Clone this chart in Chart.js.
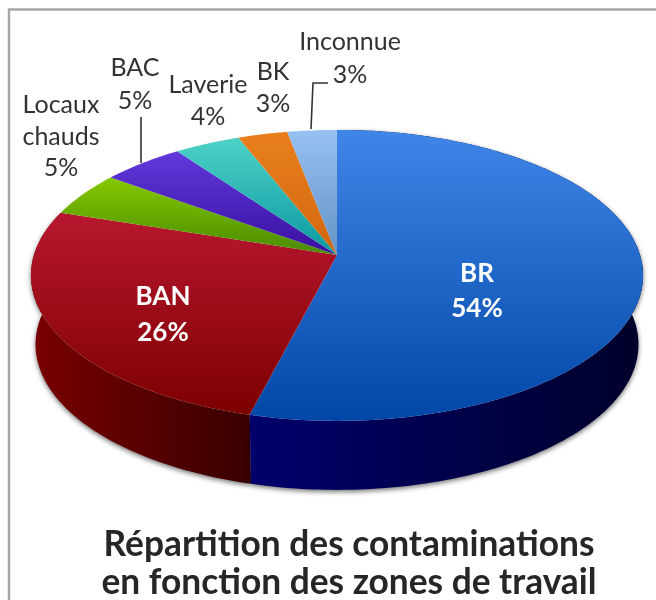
<!DOCTYPE html>
<html lang="fr">
<head>
<meta charset="utf-8">
<title>Répartition des contaminations</title>
<script src="https://cdn.jsdelivr.net/npm/chart.js@4"></script>
<style>
  html, body { margin: 0; padding: 0; background: #fff; }
  #wrap { width: 656px; height: 600px; overflow: hidden; }
</style>
</head>
<body>
<div id="wrap"><canvas id="pie" width="656" height="600"></canvas></div>
<script>
// Data
const categories = ['BR', 'BAN', 'Locaux chauds', 'BAC', 'Laverie', 'BK', 'Inconnue'];
const shares = [54, 26, 5, 5, 4, 3, 3];
const titleLines = ['Répartition des contaminations', 'en fonction des zones de travail'];

// Face colours, light end then dark end of the vertical gradient
const faceLight = ['#3f86e8', '#b8172f', '#86c900', '#6238dc', '#4ed2c8', '#e9801c', '#98c0f3'];
const faceDark = ['#0047a8', '#7c0000', '#4a8a00', '#38109f', '#0b98a0', '#d2660f', '#6293c8'];
const wallLeft = ['#00006e', '#7a0000'];
const wallRight = ['#00002a', '#3a0000'];

// Where the text sits: centre x, first line y, line step, inside the pie or not
const labelSpots = {
  'BR': [477, 274, 35, true],
  'BAN': [163, 297, 36, true],
  'Locaux chauds': [61, 105, 31.5, false],
  'BAC': [135, 68, 33, false],
  'Laverie': [208, 85, 32, false],
  'BK': [273, 72, 32, false],
  'Inconnue': [350, 42, 33, false]
};

// Fake perspective for the flat pie: disc tilted towards the viewer
const tilt = { a: 303, b: 142.6, k: 0.141, shiftX: -12, depth: 69, shrink: 0.985 };

function project(el, angle) {
  const u = Math.cos(angle), v = Math.sin(angle);
  const w = 1 - tilt.k * v;
  return {
    x: el.x + tilt.shiftX + tilt.a * u / w,
    y: el.y + tilt.b * v / w
  };
}

function rimPoints(el) {
  const pts = [];
  const steps = Math.max(8, Math.ceil((el.endAngle - el.startAngle) * 60));
  for (let i = 0; i <= steps; i++) {
    pts.push(project(el, el.startAngle + (el.endAngle - el.startAngle) * i / steps));
  }
  return pts;
}

function drawWall(ctx, el, i) {
  const cx = el.x + tilt.shiftX;
  const pts = rimPoints(el);
  const grad = ctx.createLinearGradient(i === 0 ? 245 : 30, 0, i === 0 ? 643 : 245, 0);
  grad.addColorStop(0, i === 0 ? wallLeft[0] : wallLeft[1]);
  grad.addColorStop(1, i === 0 ? wallRight[0] : wallRight[1]);
  ctx.beginPath();
  pts.forEach((p, n) => { n ? ctx.lineTo(p.x, p.y) : ctx.moveTo(p.x, p.y); });
  pts.slice().reverse().forEach(p => {
    ctx.lineTo(cx + (p.x - cx) * tilt.shrink, p.y + tilt.depth);
  });
  ctx.closePath();
  ctx.fillStyle = grad;
  ctx.fill();
}

function drawFace(ctx, el, i) {
  const pts = rimPoints(el);
  // back slices run from the rim to the apex, the two big ones down the whole disc
  const top = Math.min(...pts.map(p => p.y));
  const bottom = Math.max(el.y, ...pts.map(p => p.y));
  const grad = ctx.createLinearGradient(0, top, 0, bottom);
  grad.addColorStop(0, faceLight[i]);
  grad.addColorStop(1, faceDark[i]);
  ctx.beginPath();
  ctx.moveTo(el.x + tilt.shiftX, el.y);
  pts.forEach(p => ctx.lineTo(p.x, p.y));
  ctx.closePath();
  ctx.fillStyle = grad;
  ctx.fill();
}

const tiltedPie = {
  id: 'tiltedPie',
  beforeDraw(chart) {
    // grey frame, runs off the right and bottom of the picture
    const ctx = chart.ctx;
    ctx.save();
    ctx.strokeStyle = '#a6a6a6';
    ctx.lineWidth = 2.5;
    ctx.strokeRect(9, 9.5, 800, 800);
    ctx.restore();
  },
  beforeDatasetDraw(chart, args) {
    const ctx = chart.ctx;
    const arcs = args.meta.data;
    ctx.save();
    ctx.shadowColor = 'rgba(0,0,0,0.55)';
    ctx.shadowBlur = 5;
    ctx.shadowOffsetY = 2;
    drawWall(ctx, arcs[1], 1);
    drawWall(ctx, arcs[0], 0);
    ctx.restore();
    ctx.save();
    arcs.forEach((el, i) => drawFace(ctx, el, i));
    ctx.restore();
    return false;
  },
  afterDatasetsDraw(chart) {
    const ctx = chart.ctx;
    ctx.save();
    // leader lines
    ctx.strokeStyle = '#333';
    ctx.lineWidth = 1.6;
    ctx.beginPath();
    ctx.moveTo(141, 163); ctx.lineTo(141, 117);
    ctx.moveTo(311, 129); ctx.lineTo(313, 83); ctx.lineTo(328, 83);
    ctx.stroke();
    ctx.textAlign = 'center';
    ctx.textBaseline = 'middle';
    categories.forEach((name, i) => {
      const spot = labelSpots[name];
      const lines = name.split(' ').concat(shares[i] + '%');
      ctx.font = (spot[3] ? 'bold 26px' : '25px') + ' Lato, Carlito, sans-serif';
      ctx.fillStyle = spot[3] ? '#fff' : '#333';
      lines.forEach((line, n) => ctx.fillText(line, spot[0], spot[1] + n * spot[2]));
    });
    ctx.restore();
  }
};

new Chart(document.getElementById('pie'), {
  type: 'pie',
  data: {
    labels: categories,
    datasets: [{ data: shares, borderWidth: 0, backgroundColor: faceLight }]
  },
  options: {
    responsive: false,
    animation: false,
    layout: { padding: { left: 42, right: 0, top: 0, bottom: 0 } },
    plugins: {
      legend: { display: false },
      tooltip: { enabled: false },
      title: {
        display: true,
        text: titleLines,
        position: 'bottom',
        color: '#262626',
        font: { family: 'Lato, Carlito, sans-serif', size: 35.3, weight: 'bold', lineHeight: 1.08 },
        padding: { top: 16, bottom: -2 }
      }
    }
  },
  plugins: [tiltedPie]
});
</script>
</body>
</html>
